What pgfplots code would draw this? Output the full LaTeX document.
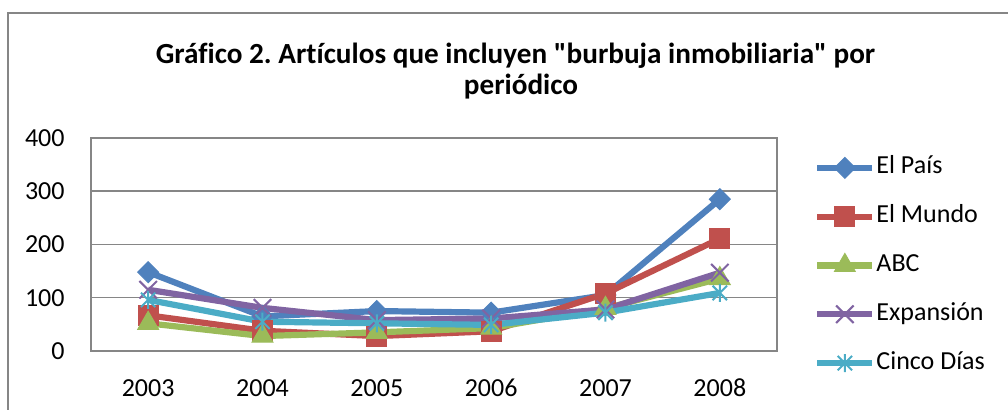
\documentclass[border=0pt]{standalone}
\usepackage{pgfplots}
\pgfplotsset{compat=1.18}
\usepackage{fontspec}
\setmainfont{Carlito}
\newfontfamily\titlefont{Carlito}[Ligatures={TeXOff,NoCommon}]
\frenchspacing
\definecolor{cPais}{HTML}{4F81BD}
\definecolor{cMundo}{HTML}{C0504D}
\definecolor{cABC}{HTML}{9BBB59}
\definecolor{cExp}{HTML}{8064A2}
\definecolor{cCinco}{HTML}{4BACC6}
\definecolor{gridgray}{HTML}{868686}
\pgfdeclareplotmark{excelstar}{%
 \pgfpathmoveto{\pgfqpoint{0pt}{\pgfplotmarksize}}%
 \pgfpathlineto{\pgfqpoint{0pt}{-\pgfplotmarksize}}%
 \pgfpathmoveto{\pgfqpoint{-.8\pgfplotmarksize}{-.8\pgfplotmarksize}}%
 \pgfpathlineto{\pgfqpoint{.8\pgfplotmarksize}{.8\pgfplotmarksize}}%
 \pgfpathmoveto{\pgfqpoint{-.8\pgfplotmarksize}{.8\pgfplotmarksize}}%
 \pgfpathlineto{\pgfqpoint{.8\pgfplotmarksize}{-.8\pgfplotmarksize}}%
 \pgfusepathqstroke}
\begin{document}
\begin{tikzpicture}
\path[use as bounding box] (0,0) rectangle (504pt,205pt);
\draw[gridgray, line width=0.8pt] (4pt,-10pt) -- (4pt,198.5pt) -- (520pt,198.5pt);
\node[anchor=base, inner sep=0pt, font=\titlefont\fontsize{14.6}{16}\selectfont\bfseries] at (257.75pt,173.35pt) {Gráfico 2. Artículos que incluyen "burbuja inmobiliaria" por};
\node[anchor=base, inner sep=0pt, font=\titlefont\fontsize{14.6}{16}\selectfont\bfseries] at (260.5pt,157.5pt) {periódico};
\begin{axis}[
  at={(45.5pt,29.5pt)}, anchor=south west, scale only axis,
  width=343pt, height=106.5pt,
  xmin=-0.5, xmax=5.5, ymin=0, ymax=400,
  xtick={0,1,2,3,4,5},
  xticklabels={2003,2004,2005,2006,2007,2008},
  ytick={0,100,200,300,400},
  /pgf/number format/assume math mode=true,
  major tick length=0pt,
  ymajorgrids,
  grid style={gridgray, line width=0.75pt},
  axis line style={gridgray, line width=0.75pt},
  tick label style={font=\fontsize{13}{15.6}\selectfont},
  yticklabel style={anchor=east, inner sep=0pt, xshift=-13pt},
  xticklabel style={anchor=north, inner sep=0pt, text height=9pt, text depth=0pt, yshift=-13.5pt},
  legend style={draw=none, fill=none, at={(1.045,0.4015)}, anchor=west,
    font=\fontsize{13}{15.6}\selectfont, row sep=12.4pt, column sep=0.5pt,
    nodes={inner sep=0pt, text height=9pt, text depth=3pt}},
  legend cell align=left,
  legend image code/.code={\draw[mark repeat=2, mark phase=2, #1] plot coordinates {(0pt,0pt) (13.75pt,0pt) (27.5pt,0pt)};},
  every axis plot/.append style={line width=3.1pt},
]
\addplot[cPais, mark=square*, mark size=3.7pt, mark options={rotate=45, line width=0.5pt, fill=cPais, solid}] coordinates {(0,148) (1,65) (2,75) (3,72) (4,105) (5,285)};
\addlegendentry{El País}
\addplot[cMundo, mark=square*, mark size=5pt, mark options={line width=0.5pt, fill=cMundo, solid}] coordinates {(0,67) (1,38) (2,28) (3,37) (4,108) (5,211)};
\addlegendentry{El Mundo}
\addplot[cABC, mark=triangle*, mark size=6pt, mark options={line width=0.5pt, fill=cABC, solid}] coordinates {(0,52) (1,28) (2,35) (3,43) (4,80) (5,136)};
\addlegendentry{ABC}
\addplot[cExp, mark=x, mark size=6.2pt, mark options={line width=1pt, solid}] coordinates {(0,115) (1,81) (2,58) (3,61) (4,78) (5,147)};
\addlegendentry{Expansión}
\addplot[cCinco, mark=excelstar, mark size=4.5pt, mark options={line width=1pt, solid}] coordinates {(0,96) (1,55) (2,52) (3,49) (4,72) (5,109)};
\addlegendentry{Cinco Días}
\end{axis}
\end{tikzpicture}
\end{document}
